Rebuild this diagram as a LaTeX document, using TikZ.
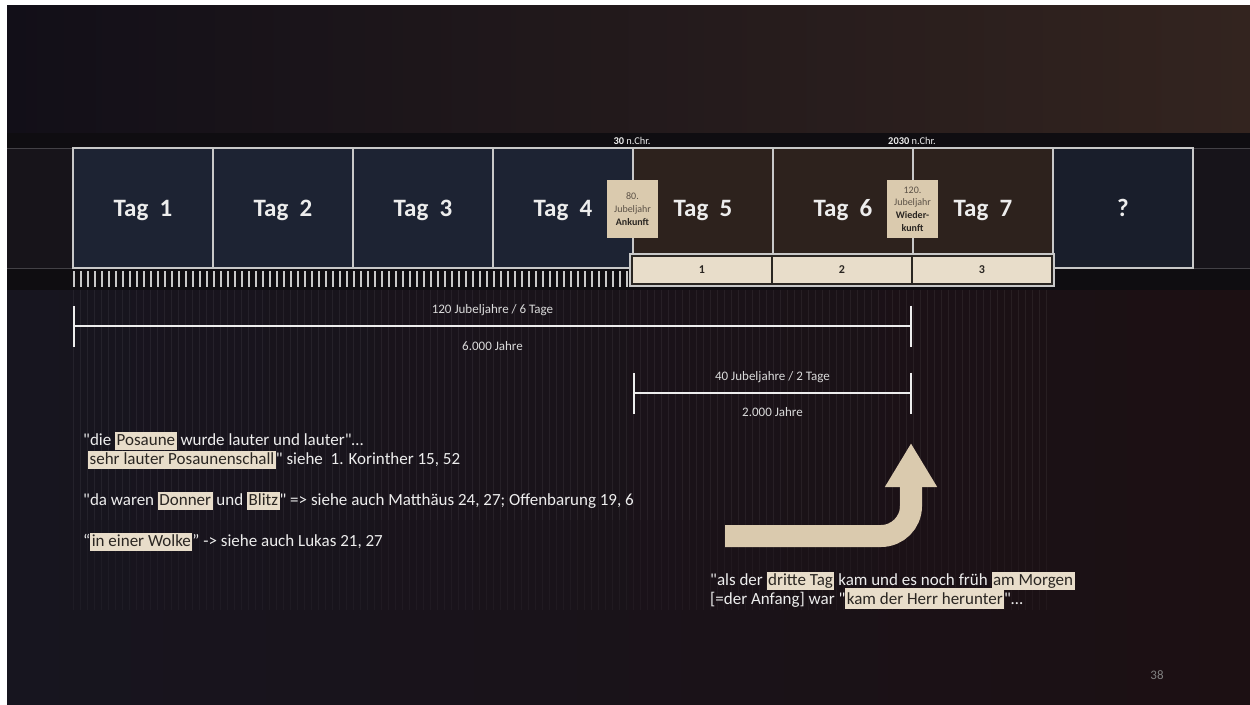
\documentclass[tikz,border=0pt]{standalone}
\usepackage{fontspec}
\setmainfont{Carlito}[Ligatures=TeXOff]
\usepackage{xcolor}
\usetikzlibrary{arrows.meta,positioning,calc}
\definecolor{ink}{HTML}{2A2622}
\definecolor{night}{HTML}{120F18}
\definecolor{rust}{HTML}{33241F}
\definecolor{dusk}{HTML}{17151F}
\definecolor{wine}{HTML}{1C1013}
\definecolor{band}{HTML}{17141A}
\definecolor{navy}{HTML}{1D2333}
\definecolor{umber}{HTML}{2D221D}
\definecolor{rim}{HTML}{C8C8C8}
\definecolor{sand}{HTML}{E8DDCA}
\definecolor{tan}{HTML}{DACAAE}
\definecolor{chalk}{HTML}{EDEDED}
\definecolor{mute}{HTML}{5C5247}
\newcommand{\hl}[1]{{\setlength{\fboxsep}{0pt}\colorbox{sand}{\kern1.5pt\rule[-4.5pt]{0pt}{18pt}\color{ink}#1\kern1.5pt}}}
\newcommand{\hlup}[1]{{\setlength{\fboxsep}{0pt}\colorbox{sand}{\kern1.5pt\rule[-4.5pt]{0pt}{21pt}\color{ink}#1\kern1.5pt}}}

\begin{document}
\begin{tikzpicture}[x=1pt, y=-1pt,
  every node/.style={font=\fontsize{17}{19}\selectfont, text=chalk, inner sep=0pt},
  day/.style={draw=rim, line width=1.3pt, minimum width=140pt, minimum height=120pt,
              text depth=0pt, font=\fontsize{25}{30}\selectfont\bfseries},
  slot/.style={draw=ink, line width=1.2pt, fill=sand, minimum width=140pt,
               minimum height=28pt, text=ink, font=\fontsize{12}{14}\selectfont\bfseries},
  tagx/.style={fill=tan, minimum width=51pt, minimum height=58pt, align=center,
               text=mute, font=\fontsize{10}{12.7}\selectfont},
  date/.style={font=\fontsize{10.4}{12}\selectfont},
  dim/.style={draw=chalk, line width=2.4pt, {Bar[width=41pt]}-{Bar[width=41pt]}},
  dimlbl/.style={font=\fontsize{13}{15}\selectfont, text=chalk!92!black},
  verse/.style={anchor=base west},
  bigarr/.style={draw=tan, line width=22pt, rounded corners=30pt,
                 -{Triangle[width=49pt, length=44pt]}}
]
\useasboundingbox (0,0) rectangle (1250,704);
% slide background
\fill[white] (0,0) rectangle (1250,704);
\shade[left color=night, right color=rust] (7,5) rectangle (1250,133);
\shade[left color=dusk, right color=wine] (7,290) rectangle (1250,704);
\fill[band] (7,133) rectangle (1250,290);
\fill[band!65!black] (7,133) rectangle (1250,148);
\fill[band!65!black] (7,268) rectangle (1250,290);
\draw[rim!25!band] (7,148) -- (1250,148);
\draw[rim!25!band] (7,268) -- (1250,268);
\foreach \i in {0,...,139} {
  \draw[white, opacity=0.06, line width=1pt] ({73+7*\i},290) -- ({73+7*\i},520);
  \draw[white, opacity=0.03, line width=1pt] ({73+7*\i},520) -- ({73+7*\i},610);
}

% days
\foreach \n/\c in {1/navy,2/navy,3/navy,4/navy,5/umber,6/umber,7/umber}
  \node[day, fill=\c] (tag\n) at ({3+140*\n},208) {Tag~~\n};
\node[day, fill=navy!85!black] (tag8) at (1123,208) {?};
\foreach \i in {0,...,79}
  \draw[rim, line width=1.1pt] ({74+7*\i},271) -- ({74+7*\i},287);

\node[slot] (s1) at (702,270) {1};
\node[slot] (s2) at (842,270) {2};
\node[slot] (s3) at (982,270) {3};
\draw[rim, line width=1.3pt] ($(s1.north west)+(-1.5,-1.5)$) rectangle ($(s3.south east)+(1.5,1.5)$);

\node[tagx] (arrive) at (632.5,209) {80.\\Jubeljahr\\\textcolor{ink}{\bfseries Ankunft}};
\node[tagx] (return) at (912.5,209) {120.\\Jubeljahr\\\textcolor{ink}{\bfseries Wieder-}\\\textcolor{ink}{\bfseries kunft}};
\node[date] (d30) at (632,141) {\textbf{30} n.Chr.};
\node[date] (d2030) at (912,141) {\textbf{2030} n.Chr.};

% spans
\coordinate (a0) at (73,326);
\coordinate (a1) at (912,326);
\draw[dim] (a0) -- (a1);
\node[dimlbl] (jub6) at ($(a0)!0.5!(a1)+(0,-16)$) {120 Jubeljahre / 6 Tage};
\node[dimlbl] (yr6) at ($(a0)!0.5!(a1)+(0,20)$) {6.000 Jahre};
\coordinate (b0) at (633,393);
\coordinate (b1) at (912,393);
\draw[dim] (b0) -- (b1);
\node[dimlbl] (jub2) at ($(b0)!0.5!(b1)+(0,-16)$) {40 Jubeljahre / 2 Tage};
\node[dimlbl] (yr2) at ($(b0)!0.5!(b1)+(0,19)$) {2.000 Jahre};

% quotes
\node[verse] (v1) at (83,445) {"die \hl{Posaune} wurde lauter und lauter"…};
\node[verse] (v2) at (83,464) {\hspace{5pt}\hl{sehr lauter Posaunenschall}" siehe\ \ 1. Korinther 15, 52};
\node[verse] (v3) at (83,505) {"da waren \hl{Donner} und \hl{Blitz}" => siehe auch Matthäus 24, 27; Offenbarung 19, 6};
\node[verse] (v4) at (83,546) {“\hl{in einer Wolke}” -> siehe auch Lukas 21, 27};

\coordinate (tail) at (725,536);
\coordinate (tip) at (911,443);
\draw[bigarr] (tail) -| (tip);

\node[verse] (w1) at (710,585) {"als der \hl{dritte Tag} kam und es noch früh \hl{am Morgen}};
\node[verse] (w2) at (710,604) {[=der Anfang] war "\hlup{kam der Herr herunter}"…};

\node[font=\fontsize{13}{15}\selectfont, text=gray] (page) at (1157,675) {38};
\end{tikzpicture}
\end{document}
